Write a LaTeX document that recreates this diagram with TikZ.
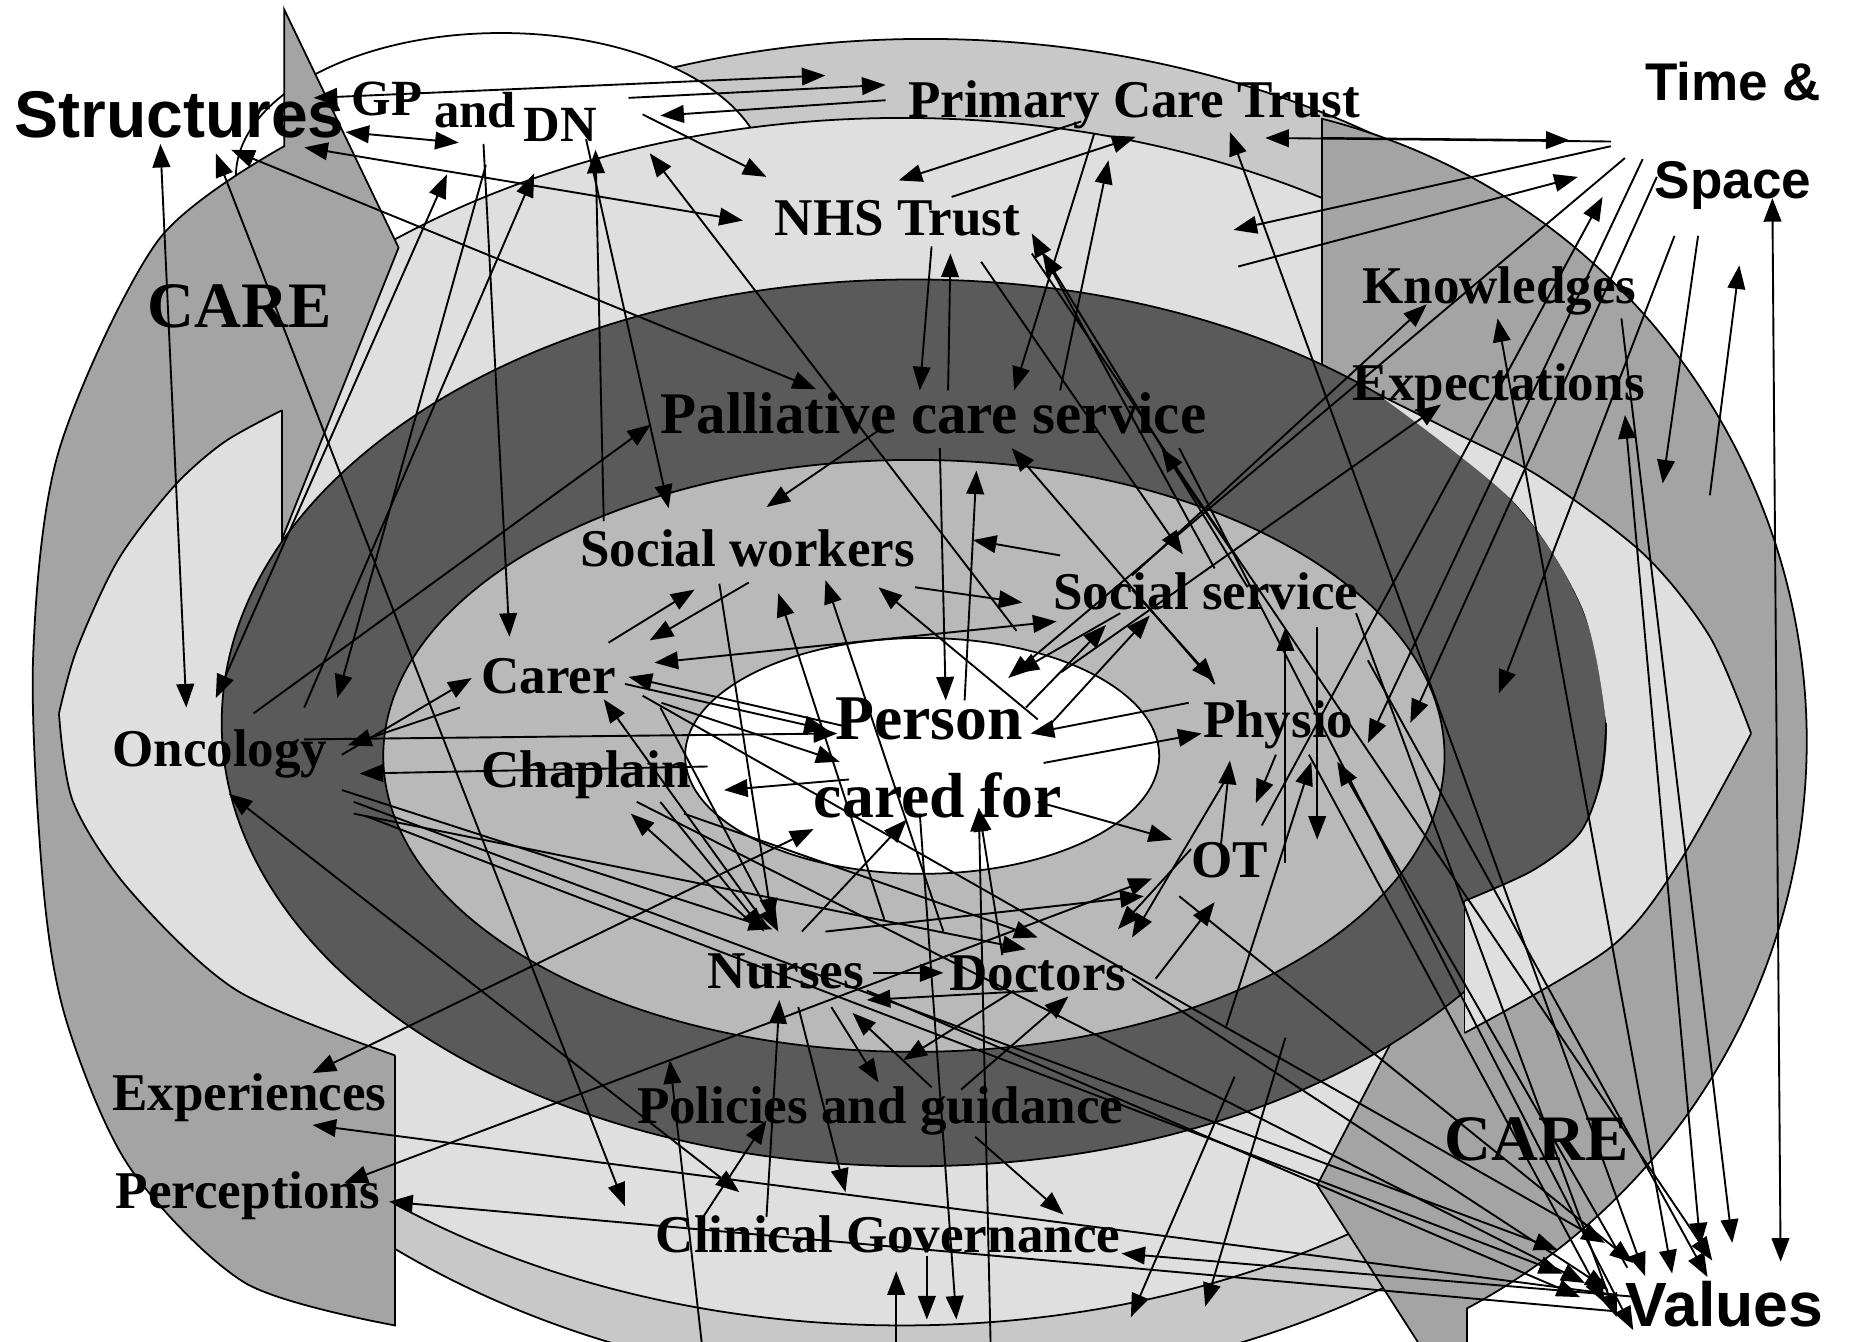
\documentclass[tikz,border=0pt]{standalone}
\usepackage{fontspec}
\setmainfont{Liberation Serif}
\newfontfamily\sansbold{Liberation Sans}
\usetikzlibrary{arrows.meta}
\definecolor{caregray}{HTML}{A4A4A4}
\definecolor{pctgray}{HTML}{C8C8C8}
\definecolor{outerlight}{HTML}{DFDFDF}
\definecolor{ringdark}{HTML}{5A5A5A}
\definecolor{innergray}{HTML}{B9B9B9}
\begin{document}
\begin{tikzpicture}[x=1pt,y=-1pt,
  outline/.style={draw=black,line width=1.5pt},
  link/.style={draw=black,line width=1.6pt,-{Triangle[length=20pt,width=15pt]}},
  dlink/.style={draw=black,line width=1.6pt,{Triangle[length=20pt,width=15pt]}-{Triangle[length=20pt,width=15pt]}},
  lab/.style={font=\bfseries\fontsize{#1}{#1}\selectfont,inner sep=0pt,anchor=base west},
  lab/.default=45,
  slab/.style={font=\sansbold\bfseries\fontsize{#1}{#1}\selectfont,inner sep=0pt,anchor=base west},
  slab/.default=45]
\useasboundingbox (0,0) rectangle (1568,1138);
\clip (0,0) rectangle (1568,1138);
\fill[white] (0,0) rectangle (1568,1138);

% outer ring: Primary Care Trust
\path[fill=pctgray,outline] (785,605) ellipse[x radius=740,y radius=572];
% white ellipse behind GP and DN
\path[fill=white,outline] (425,150) ellipse[x radius=225,y radius=122];
% NHS Trust ring
\path[fill=outerlight,outline] (765,612) ellipse[x radius=715,y radius=512];

% left CARE arrow, head pointing up
\path[fill=caregray,outline] (241,8) -- (338,210) -- (240,455) -- (300,800) -- (335,895) -- (335,1124)
  -- plot[smooth] coordinates {(335,1124)(208,1088)(110,990)(57,868)(37,755)(28,560)(50,382)(134,204)(241,124)} -- cycle;
% light band inside the left arrow
\fill[outerlight] (239,348)
  -- plot[smooth] coordinates {(239,348)(190,375)(147,413)(100,475)(65,551)(50,605)}
  -- plot[smooth] coordinates {(50,605)(62,680)(110,755)(201,840)(335,895)}
  -- (520,880) -- (420,520) -- (239,470) -- cycle;
\draw[outline] plot[smooth] coordinates {(239,348)(190,375)(147,413)(100,475)(65,551)(50,605)};
\draw[outline] plot[smooth] coordinates {(50,605)(62,680)(110,755)(201,840)(335,895)};
\draw[outline] (239,348) -- (239,470);

% right CARE arrow, head pointing down
\path[fill=caregray,outline] (1121,338) -- (1121,100.7) arc[start angle=-75.77,end angle=61.86,radius=545]
  -- (1244,1203) -- (1117,1005) -- (1244,760) -- (1100,600) -- cycle;

% palliative care ring
\path[fill=ringdark,outline] (775,613) ellipse[x radius=587,y radius=376];

% light band inside the right arrow
\fill[outerlight] (1168,334)
  -- plot[smooth] coordinates {(1168,334)(1230,365)(1307,405)(1394,470)(1450,540)(1485,622)}
  -- plot[smooth] coordinates {(1485,622)(1423,733)(1365,804)(1242,876)}
  -- (1242,764)
  -- plot[smooth] coordinates {(1242,764)(1300,738)(1340,706)(1358,660)(1362,613)(1342,516)(1283,425)(1168,334)} -- cycle;
\draw[outline] plot[smooth] coordinates {(1168,334)(1230,365)(1307,405)(1394,470)(1450,540)(1485,622)};
\draw[outline] plot[smooth] coordinates {(1485,622)(1423,733)(1365,804)(1242,876)};
\draw[outline] (1242,876) -- (1242,764);
\draw[outline] plot[smooth] coordinates {(1242,764)(1300,738)(1340,706)(1358,660)(1362,613)};

% professionals ring and centre
\path[fill=innergray,outline] (775,641) ellipse[x radius=450,y radius=251];
\path[fill=white,outline] (782,641) ellipse[x radius=201,y radius=100];

% one-way links
\foreach \a/\b/\c/\d in {
 533/83/751/72, 751/85/560/98, 545/97/650/150, 917/103/762/153, 807/167/963/116,
 790/209/780/331, 804/331/806/215, 928/113/860/331, 899/331/940/136, 832/222/1003/470,
 1030/482/875/198, 1058/498/884/214, 1366/120/1073/117, 1120/117/1331/119, 1366/124/1046/195,
 1050/226/1338/150, 412/140/286/592, 258/600/453/147, 410/122/432/540, 512/442/505/127,
 497/118/567/431, 862/535/551/130, 1440/200/1410/410, 1450/420/1475/225, 1378/134/855/575,
 1393/135/1160/630, 1405/150/1196/613, 1070/700/1359/167, 1420/200/1271/588, 960/488/1210/258,
 900/570/1222/343, 1375/270/1469/1054, 745/365/650/430, 899/471/825/458, 776/498/867/511,
 635/494/551/543, 516/545/589/500, 750/780/660/503, 800/790/700/492, 880/610/745/498,
 1030/580/858/380, 1050/475/985/380, 215/605/552/360, 717/616/533/574, 530/580/702/619,
 561/596/712/646, 290/640/400/575, 390/600/295/632, 650/785/512/593, 560/600/660/790,
 797/380/802/594, 818/594/828/399, 950/520/861/571, 1008/596/874/622, 885/647/1019/622,
 880/680/994/712, 720/661/614/670, 680/790/769/695, 850/810/830/685, 258/627/710/622,
 600/650/305/656, 740/825/800/825, 880/840/735/848, 650/1032/661/848, 677/854/717/1011,
 705/854/745/918, 790/922/723/859, 860/840/766/899, 815/924/906/845, 786/1065/786/1119,
 780/690/811/1119, 760/1138/760/1078, 595/1138/568/899, 840/1138/830/685, 593/1037/650/950,
 827/964/902/1030, 1390/1100/951/1063, 1047/913/959/1117, 1090/880/1022/1108, 1090/732/1090/532,
 1117/532/1117/712, 1035/720/1043/645, 1082/640/1065/681, 1040/870/1112/646, 1380/1075/1134/646,
 1370/1098/265/954, 1370/1112/330/1019, 960/500/1030/578, 870/600/938/530, 890/615/975/522,
 1040/660/960/795, 1010/720/948/788, 980/830/1030/765, 700/790/970/760, 580/690/880/795,
 290/670/655/788, 300/690/870/805, 560/680/648/790, 640/785/535/690, 610/495/655/782,
 300/680/1321/1060, 310/692/1325/1080, 540/680/1344/1088, 545/590/1361/1054, 960/830/1364/1094,
 1000/760/1385/1071, 1110/640/1361/1105, 1150/520/1371/1117, 1000/380/1385/1128, 875/215/1452/1069,
 1160/560/1448/1083, 735/840/1340/1100}
  \draw[link] (\a,\b) -- (\c,\d);

% two-way links
\foreach \a/\b/\c/\d in {
 266/83/700/64, 293/112/389/121, 258/125/630/187, 136/122/158/600, 183/130/530/1023,
 196/127/692/330, 183/592/379/148, 555/562/896/527, 265/910/690/703, 292/1003/977/745,
 1503/168/1510/1070, 1270/270/1418/1080, 1378/352/1442/1057, 1043/112/1395/1082, 194/673/627/1011}
  \draw[dlink] (\a,\b) -- (\c,\d);

% labels
\node[slab=56] (structures) at (12,117) {Structures};
\node[lab=43] (gp) at (298,98) {GP};
\node[lab=43] (and) at (368,108) {and};
\node[lab=43] (dn) at (444,120) {DN};
\node[lab] (pct) at (770,100) {Primary Care Trust};
\node[lab] (nhs) at (657,200) {NHS Trust};
\node[lab=55] (careL) at (125,278) {CARE};
\node[lab=55] (careR) at (1225,984) {CARE};
\node[lab] (know) at (1155,257) {Knowledges};
\node[lab] (expect) at (1147,340) {Expectations};
\node[slab] (time) at (1395,85) {Time \&};
\node[slab] (space) at (1403,168) {Space};
\node[slab=53] (values) at (1378,1125) {Values};
\node[lab=50] (pall) at (560,368) {Palliative care service};
\node[lab] (sw) at (492,480) {Social workers};
\node[lab] (ss) at (893,517) {Social service};
\node[lab] (carer) at (408,588) {Carer};
\node[lab] (chap) at (408,668) {Chaplain};
\node[lab] (onc) at (95,650) {Oncology};
\node[lab=54] (person) at (708,627) {Person};
\node[lab=54] (caredfor) at (690,693) {cared for};
\node[lab] (physio) at (1020,625) {Physio};
\node[lab] (ot) at (1010,744) {OT};
\node[lab] (nurses) at (600,838) {Nurses};
\node[lab] (doctors) at (805,840) {Doctors};
\node[lab] (policies) at (540,953) {Policies and guidance};
\node[lab] (cg) at (556,1062) {Clinical Governance};
\node[lab] (exper) at (95,942) {Experiences};
\node[lab] (percep) at (98,1025) {Perceptions};
\end{tikzpicture}
\end{document}
